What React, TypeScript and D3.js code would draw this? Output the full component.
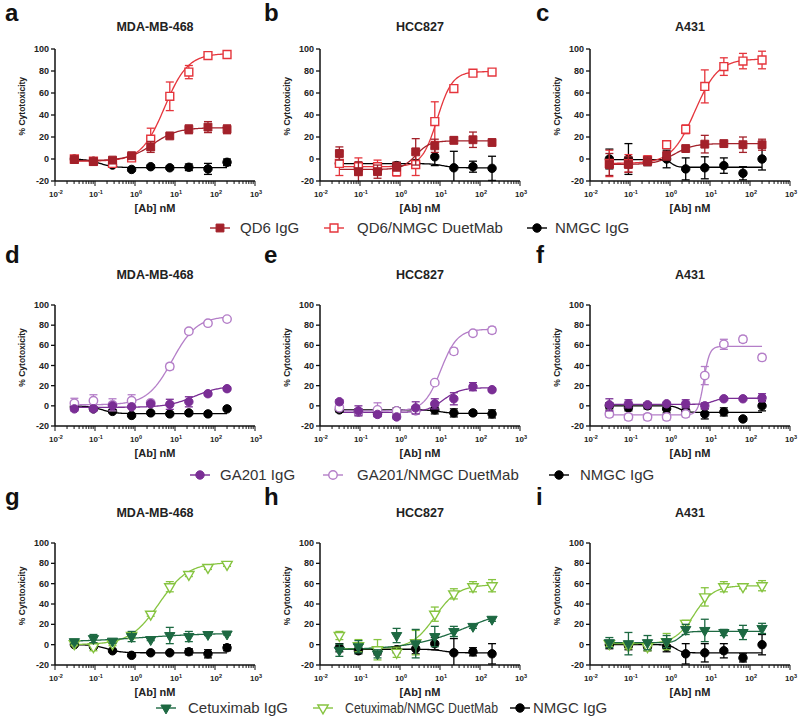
import * as d3 from 'd3';
import React from 'react';

// antibody concentrations (nM), 3-fold dilution series
const concentrations = [0.0305, 0.0914, 0.274, 0.823, 2.47, 7.41, 22.2, 66.7, 200];
const yTicks = [-20, 0, 20, 40, 60, 80, 100];
const xDecades = [-2, -1, 0, 1, 2, 3];
const cellLines = ['MDA-MB-468', 'HCC827', 'A431'];
const panelLetters = [['a', 'b', 'c'], ['d', 'e', 'f'], ['g', 'h', 'i']];
const legendLabels = [
  ['QD6 IgG', 'QD6/NMGC DuetMab', 'NMGC IgG'],
  ['GA201 IgG', 'GA201/NMGC DuetMab', 'NMGC IgG'],
  ['Cetuximab IgG', 'Cetuximab/NMGC DuetMab', 'NMGC IgG'],
];

// fit = [low-dose plateau, high-dose plateau, EC50, hill slope]
// --- QD6 row ---
const mdaQd6Igg = [-0.5, -2.4, -1, 3, 11, 21, 27, 29, 27];
const mdaQd6IggSd = [1, 2, 1.5, 2, 5, 2, 4, 5, 4];
const mdaQd6IggFit = [-1.5, 28.5, 2.8, 1.4];
const mdaQd6Duet = [0, -2, -4, 1, 18, 57, 79, 94, 95];
const mdaQd6DuetSd = [1, 1.5, 2, 2, 10, 13, 6, 1.5, 1.5];
const mdaQd6DuetFit = [-2, 96, 5.5, 1.5];
const mdaQd6Nmgc = [0, -2, -5.5, -9.5, -7, -8, -7.5, -9, -3];
const mdaQd6NmgcSd = [1, 1, 1, 1.5, 1.5, 1.5, 3, 5, 3];
const mdaQd6NmgcFit = [0, -7.8, 0.13, 2.5];

const hccQd6Igg = [5, -11.5, -11.5, -7, 6.5, 12, 17, 17.5, 15];
const hccQd6IggSd = [6, 9, 6, 4, 12, 6, 3, 7, 2];
const hccQd6IggFit = [-9.5, 16.5, 2.5, 2.5];
const hccQd6Duet = [-4, -7, -7, -11.5, -5, 34, 64, 78, 79];
const hccQd6DuetSd = [11, 8, 6, 4, 10, 18, 2, 2, 2];
const hccQd6DuetFit = [-7, 79.5, 8.5, 2.3];
const hccQd6Nmgc = [-4, -8, -10, -6, -4, 2, -8, -7, -8.5];
const hccQd6NmgcSd = [3, 3, 3, 3, 3, 8, 15, 5, 11];
const hccQd6NmgcFit = [-4.2, -8, 12, 3];

const a431Qd6Igg = [-5, -5, -2, 3, 9.5, 13.5, 14, 13, 13];
const a431Qd6IggSd = [10, 7, 4, 4, 2, 8, 2, 7, 5];
const a431Qd6IggFit = [-5, 14, 1.3, 1.8];
const a431Qd6Duet = [-4, -4, -1, 13, 27, 66, 84, 89, 90];
const a431Qd6DuetSd = [12, 8, 4, 2, 4, 15, 8, 7, 8];
const a431Qd6DuetFit = [-4, 91, 4.2, 1.5];
const a431Qd6Nmgc = [0, 0, -2, 0, -9, -8, -6, -13, 0];
const a431Qd6NmgcSd = [9, 14, 4, 8, 10, 10, 7, 6, 10];
const a431Qd6NmgcFit = [-0.5, -7.5, 1.1, 6];

// --- GA201 row ---
const mdaGaIgg = [-3, -3, 0, -1, 2, 1.5, 4, 12, 17];
const mdaGaIggSd = [2, 2, 1, 1, 1, 5, 5, 2, 2];
const mdaGaIggFit = [-1.5, 20, 30, 1.3];
const mdaGaDuet = [2.5, 5, 1, 5, 3, 39, 74, 82, 86];
const mdaGaDuetSd = [5, 6, 6, 6, 2, 3, 2, 2, 2];
const mdaGaDuetFit = [1, 89, 8.5, 1.4];
const mdaGaNmgc = [-1, -3, -5.5, -9.5, -7, -8, -7, -8, -3];
const mdaGaNmgcSd = [1, 1, 1, 1, 1, 1, 1.5, 1.5, 1.5];
const mdaGaNmgcFit = [0, -7.8, 0.15, 2.5];

const hccGaIgg = [4, -5, -8.5, -11, -2, 2, 7, 19, 16];
const hccGaIggSd = [2, 5, 2, 2, 6, 5, 6, 4, 2];
const hccGaIggFit = [-6.5, 18, 12, 2];
const hccGaDuet = [-2, -6, -4, -5, -5, 23, 54, 72, 75];
const hccGaDuetSd = [2, 3, 7, 2, 3, 1, 3, 2, 3];
const hccGaDuetFit = [-5, 76, 10.5, 2.1];
const hccGaNmgc = [-4, -6, -7, -5, -4, -4, -7, -7, -8];
const hccGaNmgcSd = [2, 3, 3, 3, 3, 4, 4, 2, 4];
const hccGaNmgcFit = [-4, -7.5, 10, 3];

const a431GaIgg = [1, 2, 1, 2, 2, 0, 7, 7, 8];
const a431GaIggSd = [6, 4, 1, 1, 4, 3, 1, 1, 4];
const a431GaIggFit = [1.5, 7.5, 12, 4];
const a431GaDuet = [-8, -11, -11, -11, -8, 30, 61, 66, 48];
const a431GaDuetSd = [3, 3, 3, 3, 3, 9, 5, 3, 3];
const a431GaDuetFit = [-9, 59, 7, 6];
const a431GaNmgc = [0, -2, 0, -3, -5, -8, -6, -13, 0];
const a431GaNmgcSd = [3, 3, 3, 4, 4, 5, 4, 2, 5];
const a431GaNmgcFit = [0, -6.5, 1.8, 5];

// --- Cetuximab row ---
const mdaCetIgg = [3, 6, 3.5, 8, 5, 9, 8, 10, 10.5];
const mdaCetIggSd = [2, 4, 2, 5, 1, 8, 5, 1, 1];
const mdaCetIggFit = [2.5, 11.5, 1.5, 0.5];
const mdaCetDuet = [1, -2, 1, 9, 30, 57, 69, 76, 79];
const mdaCetDuetSd = [2, 4, 2, 3, 2, 5, 2, 2, 2];
const mdaCetDuetFit = [0, 81, 4, 1.2];
const mdaCetNmgc = [0, -2, -6, -10.5, -8, -8, -7, -9, -3];
const mdaCetNmgcSd = [1, 1, 1, 1, 1, 1, 3, 4, 3];
const mdaCetNmgcFit = [0, -8, 0.2, 2.5];

const hccCetIgg = [-5.5, -2, -9, 9, 1, 8, 13, 18, 25];
const hccCetIggSd = [6, 6, 4, 7, 14, 10, 5, 2, 2];
const hccCetIggFit = [-5, 40, 50, 0.6];
const hccCetDuet = [9, -1, -5, -7.5, 2, 30, 50, 57, 58];
const hccCetDuetSd = [4, 6, 10, 5, 12, 7, 5, 5, 6];
const hccCetDuetFit = [-4, 59, 7.5, 1.5];
const hccCetNmgc = [-3, -6, -7, -5, -4, 1, -8, -7, -9];
const hccCetNmgcSd = [4, 3, 3, 3, 5, 6, 14, 4, 10];
const hccCetNmgcFit = [-4.5, -8, 12, 3];

const a431CetIgg = [2, 1, 2, 3, 15, 14, 12, 12, 16];
const a431CetIggSd = [5, 11, 7, 6, 5, 11, 3, 7, 5];
const a431CetIggFit = [2, 13, 1.8, 5];
const a431CetDuet = [1, -1, -2, 3, 21, 47, 57, 57, 58];
const a431CetDuetSd = [3, 3, 4, 8, 3, 9, 5, 2, 5];
const a431CetDuetFit = [1, 58, 4, 1.8];
const a431CetNmgc = [0, -1, -2, -2, -9, -8, -6, -13, 0];
const a431CetNmgcSd = [4, 4, 4, 5, 10, 9, 7, 4, 10];
const a431CetNmgcFit = [0, -8, 1.4, 5];

const FONT = '"Liberation Sans", Arial, Helvetica, sans-serif';
const TEXT = '#222';

type Shape = 'square' | 'circle' | 'triangle';
type Style = { color: string; shape: Shape; open: boolean };

const styles: Style[][] = [
  [
    { color: '#a3212a', shape: 'square', open: false },
    { color: '#e5353c', shape: 'square', open: true },
    { color: '#000000', shape: 'circle', open: false },
  ],
  [
    { color: '#7a2e95', shape: 'circle', open: false },
    { color: '#b47ec8', shape: 'circle', open: true },
    { color: '#000000', shape: 'circle', open: false },
  ],
  [
    { color: '#1d6942', shape: 'triangle', open: false },
    { color: '#86c440', shape: 'triangle', open: true },
    { color: '#000000', shape: 'circle', open: false },
  ],
];

// [row][col] -> [igg, duet, nmgc] as [values, sd, fit]
const grid = [
  [
    [[mdaQd6Igg, mdaQd6IggSd, mdaQd6IggFit], [mdaQd6Duet, mdaQd6DuetSd, mdaQd6DuetFit], [mdaQd6Nmgc, mdaQd6NmgcSd, mdaQd6NmgcFit]],
    [[hccQd6Igg, hccQd6IggSd, hccQd6IggFit], [hccQd6Duet, hccQd6DuetSd, hccQd6DuetFit], [hccQd6Nmgc, hccQd6NmgcSd, hccQd6NmgcFit]],
    [[a431Qd6Igg, a431Qd6IggSd, a431Qd6IggFit], [a431Qd6Duet, a431Qd6DuetSd, a431Qd6DuetFit], [a431Qd6Nmgc, a431Qd6NmgcSd, a431Qd6NmgcFit]],
  ],
  [
    [[mdaGaIgg, mdaGaIggSd, mdaGaIggFit], [mdaGaDuet, mdaGaDuetSd, mdaGaDuetFit], [mdaGaNmgc, mdaGaNmgcSd, mdaGaNmgcFit]],
    [[hccGaIgg, hccGaIggSd, hccGaIggFit], [hccGaDuet, hccGaDuetSd, hccGaDuetFit], [hccGaNmgc, hccGaNmgcSd, hccGaNmgcFit]],
    [[a431GaIgg, a431GaIggSd, a431GaIggFit], [a431GaDuet, a431GaDuetSd, a431GaDuetFit], [a431GaNmgc, a431GaNmgcSd, a431GaNmgcFit]],
  ],
  [
    [[mdaCetIgg, mdaCetIggSd, mdaCetIggFit], [mdaCetDuet, mdaCetDuetSd, mdaCetDuetFit], [mdaCetNmgc, mdaCetNmgcSd, mdaCetNmgcFit]],
    [[hccCetIgg, hccCetIggSd, hccCetIggFit], [hccCetDuet, hccCetDuetSd, hccCetDuetFit], [hccCetNmgc, hccCetNmgcSd, hccCetNmgcFit]],
    [[a431CetIgg, a431CetIggSd, a431CetIggFit], [a431CetDuet, a431CetDuetSd, a431CetDuetFit], [a431CetNmgc, a431CetNmgcSd, a431CetNmgcFit]],
  ],
];

// layout
const colX = [55, 320, 590];
const colLetterX = [5, 264, 536];
const PLOT_W = 200;
const rows = [
  { yTop: 49, yBottom: 181, letterY: 21, titleY: 31, legendY: 228 },
  { yTop: 305, yBottom: 426, letterY: 263, titleY: 279, legendY: 475 },
  { yTop: 543, yBottom: 665, letterY: 505, titleY: 517, legendY: 708 },
];
const legendPos = [
  [{ mx: 220, tx: 240, w: 0 }, { mx: 334, tx: 357, w: 0 }, { mx: 537, tx: 555, w: 0 }],
  [{ mx: 200, tx: 220, w: 0 }, { mx: 333, tx: 357, w: 0 }, { mx: 559, tx: 580, w: 0 }],
  [{ mx: 166, tx: 188, w: 0 }, { mx: 323, tx: 345, w: 153 }, { mx: 520, tx: 533, w: 0 }],
];

const fourPL = (p: number[], c: number) => p[0] + (p[1] - p[0]) / (1 + Math.pow(p[2] / c, p[3]));

function symbolPath(shape: Shape) {
  if (shape === 'square') return d3.symbol(d3.symbolSquare, 62)()!;
  if (shape === 'circle') return d3.symbol(d3.symbolCircle, 56)()!;
  return d3.symbol(d3.symbolTriangle, 46)()!;
}

function Marker({ x, y, st }: { x: number; y: number; st: Style }) {
  const rot = st.shape === 'triangle' ? ' rotate(180)' : '';
  return (
    <path
      d={symbolPath(st.shape)}
      transform={`translate(${x},${y})${rot}`}
      fill={st.open ? '#fff' : st.color}
      stroke={st.color}
      strokeWidth={st.open ? 1.4 : 1}
    />
  );
}

function Panel({ row, col }: { row: number; col: number }) {
  const r = rows[row];
  const x0 = colX[col];
  const x = d3.scaleLog().domain([0.01, 1000]).range([x0, x0 + PLOT_W]);
  const y = d3.scaleLinear().domain([-20, 100]).range([r.yBottom, r.yTop]);
  const lo = Math.log10(concentrations[0]);
  const hi = Math.log10(concentrations[concentrations.length - 1]);
  const samples = d3.range(0, 151).map((i) => Math.pow(10, lo + ((hi - lo) * i) / 150));
  const series = grid[row][col];
  const order = [2, 1, 0];
  const minorTicks = x.ticks();

  return (
    <g>
      <text x={colLetterX[col]} y={r.letterY} fontSize={24} fontWeight="bold" fill="#111" fontFamily={FONT}>
        {panelLetters[row][col]}
      </text>
      <text x={x0 + PLOT_W / 2} y={r.titleY} fontSize={12.5} fontWeight="bold" textAnchor="middle" fill={TEXT} fontFamily={FONT}>
        {cellLines[col]}
      </text>

      {/* fitted curves */}
      {order.map((si) => {
        const fit = series[si][2];
        const line = d3
          .line<number>()
          .x((c) => x(c))
          .y((c) => y(Math.max(-20, fourPL(fit, c))));
        return <path key={`f${si}`} d={line(samples)!} fill="none" stroke={styles[row][si].color} strokeWidth={1.3} />;
      })}

      {/* error bars and points */}
      {order.map((si) => {
        const [vals, sd] = series[si];
        const st = styles[row][si];
        return (
          <g key={`s${si}`}>
            {vals.map((v, i) => {
              const cx = x(concentrations[i]);
              const e = sd[i];
              const y1 = y(Math.max(-20, v - e));
              const y2 = y(v + e);
              return (
                <g key={i}>
                  <line x1={cx} x2={cx} y1={y1} y2={y2} stroke={st.color} strokeWidth={1.3} />
                  <line x1={cx - 4} x2={cx + 4} y1={y2} y2={y2} stroke={st.color} strokeWidth={1.3} />
                  {v - e > -20 && <line x1={cx - 4} x2={cx + 4} y1={y1} y2={y1} stroke={st.color} strokeWidth={1.3} />}
                  <Marker x={cx} y={y(v)} st={st} />
                </g>
              );
            })}
          </g>
        );
      })}

      {/* y axis */}
      <line x1={x0} x2={x0} y1={r.yBottom} y2={r.yTop} stroke="#111" strokeWidth={1.5} />
      {yTicks.map((t) => (
        <g key={t}>
          <line x1={x0 - 4} x2={x0} y1={y(t)} y2={y(t)} stroke="#111" strokeWidth={1.3} />
          <text x={x0 - 6} y={y(t)} dy="0.35em" fontSize={9} fontWeight="bold" textAnchor="end" fill={TEXT} fontFamily={FONT}>
            {t}
          </text>
        </g>
      ))}
      <text
        transform={`translate(${x0 - 30},${y(48)}) rotate(-90)`}
        fontSize={8.5}
        fontWeight="bold"
        textAnchor="middle"
        fill={TEXT}
        fontFamily={FONT}
      >
        % Cytotoxicity
      </text>

      {/* x axis */}
      <line x1={x0} x2={x0 + PLOT_W} y1={r.yBottom} y2={r.yBottom} stroke="#111" strokeWidth={1.5} />
      {minorTicks.map((t, i) => {
        const major = Math.abs(Math.log10(t) - Math.round(Math.log10(t))) < 1e-6;
        return (
          <line key={i} x1={x(t)} x2={x(t)} y1={r.yBottom} y2={r.yBottom + (major ? 5 : 3)} stroke="#111" strokeWidth={1} />
        );
      })}
      {xDecades.map((k) => (
        <text key={k} x={x(Math.pow(10, k)) + 1} y={r.yBottom + 16} fontSize={8} fontWeight="bold" textAnchor="middle" fill={TEXT} fontFamily={FONT}>
          10
          <tspan dy={-3.5} fontSize={5.5}>
            {k}
          </tspan>
        </text>
      ))}
      <text x={x0 + PLOT_W / 2} y={r.yBottom + 31} fontSize={11} fontWeight="bold" textAnchor="middle" fill={TEXT} fontFamily={FONT}>
        [Ab] nM
      </text>
    </g>
  );
}

function Legend({ row }: { row: number }) {
  const r = rows[row];
  return (
    <g>
      {legendLabels[row].map((label, i) => {
        const st = styles[row][i];
        const p = legendPos[row][i];
        const fit = p.w ? { textLength: p.w, lengthAdjust: 'spacingAndGlyphs' as const } : {};
        return (
          <g key={label}>
            <line x1={p.mx - 10} x2={p.mx + 10} y1={r.legendY} y2={r.legendY} stroke={st.color} strokeWidth={1.4} />
            <Marker x={p.mx} y={r.legendY} st={st} />
            <text x={p.tx} y={r.legendY} dy="0.36em" fontSize={15} fill="#333" fontFamily={FONT} {...fit}>
              {label}
            </text>
          </g>
        );
      })}
    </g>
  );
}

export default function App() {
  return (
    <svg width={800} height={725} style={{ position: 'absolute', left: 0, top: 0, background: '#fff' }}>
      <rect width={800} height={725} fill="#fff" />
      {[0, 1, 2].map((row) => (
        <g key={row}>
          {[0, 1, 2].map((col) => (
            <Panel key={col} row={row} col={col} />
          ))}
          <Legend row={row} />
        </g>
      ))}
    </svg>
  );
}
